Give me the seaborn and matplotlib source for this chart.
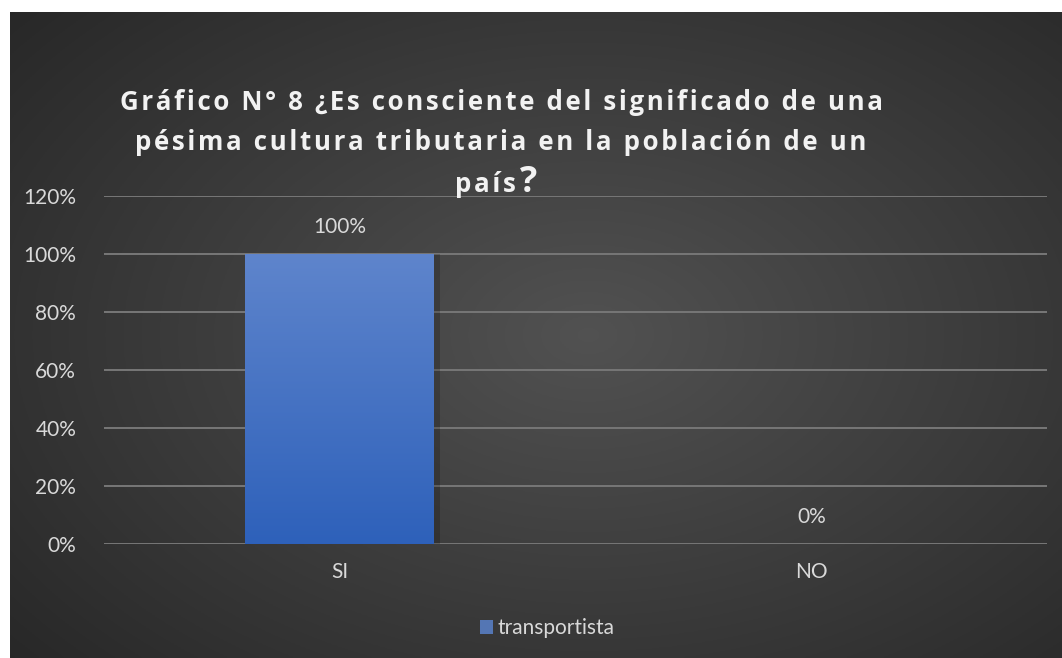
import numpy as np
import pandas as pd
import seaborn as sb
import matplotlib.pyplot as plt
from matplotlib.ticker import PercentFormatter

# data
categories = ['SI', 'NO']
values = [1.00, 0.00]
series = 'transportista'
yticks = [0, 0.2, 0.4, 0.6, 0.8, 1.0, 1.2]

df = pd.DataFrame({'respuesta': categories, 'pct': values, 'serie': series})

W, H = 1062, 658
fig = plt.figure(figsize=(W / 100, H / 100), dpi=100, facecolor='white')

# dark radial background of the chart area
bg = fig.add_axes([10 / W, 0, 1 - 10 / W, 1 - 12 / H])
bg.set_axis_off()
yy, xx = np.mgrid[0:1:300j, 0:1:480j]
r = np.sqrt(((xx - 0.55) / 0.75) ** 2 + ((yy - 0.5) / 0.8) ** 2)
shade = np.clip(0.32 - 0.17 * r, 0.15, 0.33)
bg.imshow(np.dstack([shade] * 3), aspect='auto', extent=[0, 1, 0, 1], origin='lower')
bg.set_xlim(0, 1)
bg.set_ylim(0, 1)

ax = fig.add_axes([104 / W, (H - 544) / H, (1047 - 104) / W, (544 - 196) / H])
ax.patch.set_alpha(0)

sb.barplot(data=df, x='respuesta', y='pct', hue='serie', palette=['#4472C4'],
           width=0.4, ax=ax, legend=True, zorder=3)

# vertical gradient on the bar
grad = np.linspace(0, 1, 256)[:, None]
top = np.array([0.37, 0.52, 0.80])
bot = np.array([0.18, 0.38, 0.73])
img = bot + (top - bot) * grad[..., None]
for p in ax.patches:
    x0, y0 = p.get_x(), p.get_y()
    w, h = p.get_width(), p.get_height()
    if h <= 0:
        continue
    # soft shadow to the right
    ax.add_patch(plt.Rectangle((x0 + w, y0), 0.012, h, color='black', alpha=0.18, zorder=2, lw=0))
    im = ax.imshow(img, extent=[x0, x0 + w, y0, y0 + h], origin='lower',
                   aspect='auto', zorder=4)
    im.set_clip_path(p)

ax.set_xlim(-0.5, 1.5)
ax.set_ylim(0, 1.2)
ax.set_yticks(yticks)
ax.yaxis.set_major_formatter(PercentFormatter(1.0, decimals=0))
ax.grid(axis='y', color='#777777', lw=1.4, zorder=0)
ax.set_axisbelow(True)
for s in ax.spines.values():
    s.set_visible(False)
ax.tick_params(length=0, colors='#d9d9d9', labelsize=15)
ax.tick_params(axis='y', pad=20)
ax.tick_params(axis='x', pad=13)
for lab in ax.get_xticklabels() + ax.get_yticklabels():
    lab.set_fontfamily('Lato')
ax.set_xlabel('')
ax.set_ylabel('')

# data labels
for i, v in enumerate(values):
    ax.annotate(f'{v:.0%}', (i, v), xytext=(0, 12), textcoords='offset points',
                ha='center', va='bottom', color='#d9d9d9', fontsize=15, family='Lato')

# legend at the bottom
handles, labels = ax.get_legend_handles_labels()
ax.legend(handles, labels, loc='center', bbox_to_anchor=(547 / W, (H - 628) / H),
          bbox_transform=fig.transFigure, frameon=False,
          labelcolor='#d9d9d9', handlelength=0.65, handleheight=0.65, handletextpad=0.2,
          prop={'family': 'Lato', 'size': 15})


# title, letter-spaced like the original
def spaced(s):
    return '\u200a'.join(s)


tfam = ['Open Sans', 'DejaVu Sans']
tkw = dict(ha='center', va='center', color='#f2f2f2', fontweight='bold', family=tfam, fontsize=18.6)
fig.text(501 / W, 1 - 103 / H, spaced('Gráfico N° 8 ¿Es consciente del significado de una'), **tkw)
fig.text(501 / W, 1 - 143 / H, spaced('pésima cultura tributaria en la población de un'), **tkw)
fig.text(516 / W, 1 - 192 / H, spaced('país'), fontsize=18.6, ha='right', va='baseline',
         color='#f2f2f2', fontweight='bold', family=tfam)
fig.text(520 / W, 1 - 192 / H, '?', fontsize=26, ha='left', va='baseline',
         color='#f2f2f2', fontweight='bold', family=tfam)

fig.savefig('out.png', dpi=100, facecolor='white')
